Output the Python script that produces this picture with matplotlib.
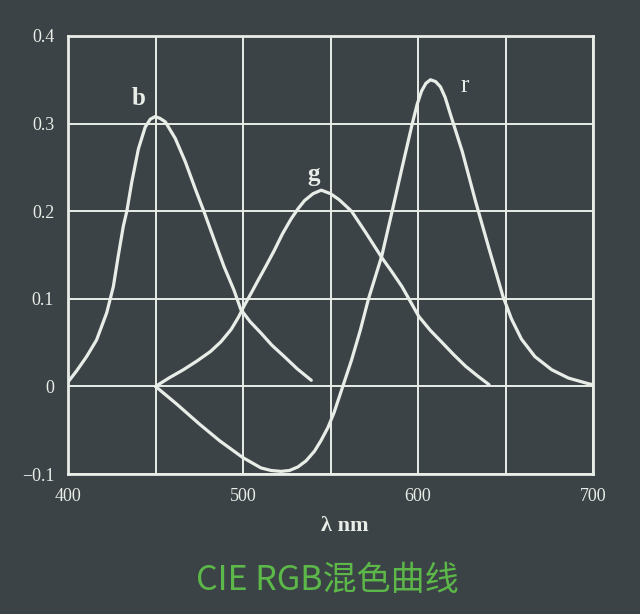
import matplotlib
matplotlib.use('Agg')
import matplotlib.pyplot as plt

# 읽어낸 곡선 값 (파장 nm, 삼자극값)
b_wl = [400, 405, 410.6, 416.3, 422.1, 425.9, 428.7, 431.6, 433.6, 436.4, 440.2, 444.1, 447, 449.8,
        452.5, 455.6, 461.3, 467.1, 472.8, 477.6, 483.4, 489.1, 494.8, 498.7, 504, 510.2, 516.5,
        523.6, 531, 539]
b_val = [0.005, 0.018, 0.034, 0.053, 0.084, 0.114, 0.149, 0.183, 0.2, 0.233, 0.271, 0.296, 0.305,
         0.308, 0.306, 0.302, 0.283, 0.256, 0.225, 0.2, 0.168, 0.137, 0.110, 0.088, 0.074, 0.061,
         0.047, 0.034, 0.020, 0.007]

g_wl = [450, 458, 465.9, 473.7, 481.5, 487.4, 493.2, 497.4, 500.9, 504.8, 508.3, 513, 517.8, 522.5,
        527.4, 531.5, 535.1, 540, 544.7, 550, 555, 562, 570, 579.3, 585, 590.8, 600.4, 607, 613.8,
        620.5, 627.2, 634, 640.6]
g_val = [0.0, 0.010, 0.019, 0.029, 0.040, 0.051, 0.065, 0.079, 0.093, 0.107, 0.120, 0.137, 0.155,
         0.174, 0.191, 0.203, 0.212, 0.220, 0.224, 0.220, 0.213, 0.200, 0.176, 0.147, 0.131, 0.114,
         0.080, 0.064, 0.050, 0.036, 0.023, 0.012, 0.002]

r_wl = [450, 462, 475.1, 486.6, 499.7, 510.2, 516, 521.7, 526.5, 531.3, 536, 540.8, 544.5, 548.5,
        552, 555, 562, 567, 571.7, 579.3, 585.1, 590.8, 596.6, 599.5, 602, 604.5, 607.1, 610, 612.8,
        615.5, 618.6, 625.3, 632.9, 640.6, 648.5, 653.4, 659.1, 666.8, 676.4, 686, 697.5, 700]
r_val = [0.0, -0.020, -0.043, -0.062, -0.081, -0.093, -0.096, -0.097, -0.096, -0.092, -0.085, -0.074,
         -0.062, -0.047, -0.030, -0.012, 0.030, 0.064, 0.100, 0.149, 0.199, 0.249, 0.299, 0.322,
         0.337, 0.346, 0.350, 0.348, 0.342, 0.330, 0.310, 0.268, 0.211, 0.157, 0.103, 0.077, 0.054,
         0.034, 0.019, 0.0095, 0.003, 0.002]

x_ticks = [400, 450, 500, 550, 600, 650, 700]
x_tick_labels = ['400', '', '500', '', '600', '', '700']
y_ticks = [-0.1, 0, 0.1, 0.2, 0.3, 0.4]
y_tick_labels = ['\u22120.1', '0', '0.1', '0.2', '0.3', '0.4']

curve_labels = ['b', 'g', 'r']
label_pos = [(440.1, 0.329), (540.4, 0.242), (626.5, 0.343)]

bg = '#3c4346'
fg = '#e8ede8'
serif = ['Liberation Serif', 'DejaVu Serif']

fig = plt.figure(figsize=(6.4, 6.14), dpi=100, facecolor=bg)
ax = fig.add_axes([0.1063, 0.228, 0.8203, 0.7134], facecolor=bg)

for wl, val in [(b_wl, b_val), (g_wl, g_val), (r_wl, r_val)]:
    ax.plot(wl, val, color=fg, lw=2.3, solid_capstyle='round', solid_joinstyle='round', zorder=3)

for name, (lx, ly) in zip(curve_labels, label_pos):
    ax.text(lx, ly, name, color=fg, fontsize=18, family=serif,
            fontweight='normal' if name == 'r' else 'bold', ha='center', va='center')

ax.set_xlim(400, 700)
ax.set_ylim(-0.1, 0.4)
ax.set_xticks(x_ticks)
ax.set_xticklabels(x_tick_labels)
ax.set_yticks(y_ticks)
ax.set_yticklabels(y_tick_labels)
ax.grid(True, color=fg, lw=1.4)
ax.tick_params(length=0, colors=fg, labelsize=13, pad=10)
for lab in ax.get_xticklabels() + ax.get_yticklabels():
    lab.set_family(serif)
for s in ax.spines.values():
    s.set_color(fg)
    s.set_linewidth(2.0)

ax.set_xlabel('\u03bb nm', color=fg, fontsize=16, fontweight='bold', family=serif)
ax.xaxis.set_label_coords(0.528, -0.095)

fig.text(0.511, 0.055, 'CIE RGB混色曲线', color='#5cb848', fontsize=24.5,
         family=['Noto Sans CJK SC', 'DejaVu Sans'], ha='center', va='center')

fig.savefig('out.png', dpi=100, facecolor=bg)
